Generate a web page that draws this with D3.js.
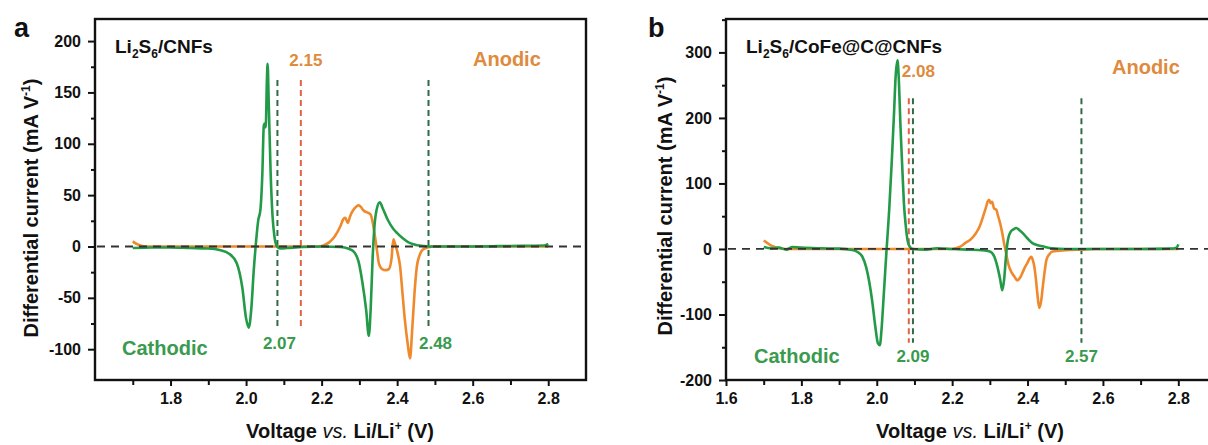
<!DOCTYPE html>
<html>
<head>
<meta charset="utf-8">
<script src="https://cdn.jsdelivr.net/npm/d3@7"></script>
<style>
  body { margin: 0; background: #fff; }
  svg text { font-family: "Liberation Sans", Arial, sans-serif; font-weight: bold; }
</style>
</head>
<body>
<svg id="chart"></svg>
<script>
// ---- data: panel a (Li2S6/CNFs) ----
const aGreenV = [1.70, 1.75, 1.80, 1.85, 1.90, 1.93, 1.955, 1.975, 1.99, 2.000, 2.007, 2.014, 2.020, 2.026, 2.032, 2.038, 2.043, 2.047, 2.050, 2.052, 2.055, 2.057, 2.060, 2.065, 2.070, 2.075, 2.082, 2.090, 2.11, 2.15, 2.20, 2.25, 2.27, 2.285, 2.298, 2.308, 2.318, 2.325, 2.330, 2.335, 2.340, 2.347, 2.354, 2.362, 2.375, 2.39, 2.40, 2.415, 2.43, 2.45, 2.47, 2.50, 2.60, 2.70, 2.79, 2.80];
const aGreenI = [-1.5, -1, -1, -1.5, -2, -3.5, -7, -16, -40, -70, -79, -60, -25, 3, 25, 36, 70, 118, 120, 116, 160, 178, 140, 72, 30, 10, 0, -2, -1.5, -0.5, 0, -0.5, -2, -5, -15, -35, -62, -87, -60, -12, 20, 38, 43, 37, 26, 17, 13, 8, 4, 1.5, 0.5, 0, 0, 0.5, 1, 2.5];
const aOrangeV = [1.700, 1.710, 1.725, 1.75, 1.9, 2.0, 2.1, 2.19, 2.205, 2.22, 2.235, 2.25, 2.258, 2.263, 2.269, 2.276, 2.283, 2.292, 2.298, 2.305, 2.311, 2.322, 2.33, 2.336, 2.342, 2.347, 2.352, 2.36, 2.37, 2.378, 2.385, 2.390, 2.395, 2.401, 2.408, 2.414, 2.420, 2.428, 2.434, 2.440, 2.446, 2.452, 2.46, 2.468, 2.48, 2.50, 2.80];
const aOrangeI = [5, 2.5, 0.5, 0, 0, 0, 0, 0, 1, 4, 10, 20, 27, 28, 23, 30, 35, 39, 40, 38, 35, 33, 31, 22, 8, -5, -17, -22, -23, -22, -12, 7, 2, -6, -20, -45, -70, -95, -109, -80, -45, -20, -8, -3, -1, 0, 0];
const aMarkV = [2.083, 2.145, 2.483];
const aMarkText = ["2.07", "2.15", "2.48"];

// ---- data: panel b (Li2S6/CoFe@C@CNFs) ----
const bGreenV = [1.70, 1.72, 1.74, 1.76, 1.775, 1.80, 1.85, 1.90, 1.935, 1.95, 1.962, 1.972, 1.980, 1.988, 1.996, 2.003, 2.008, 2.013, 2.018, 2.026, 2.033, 2.040, 2.046, 2.050, 2.055, 2.058, 2.063, 2.068, 2.072, 2.077, 2.082, 2.088, 2.095, 2.13, 2.16, 2.20, 2.24, 2.279, 2.30, 2.312, 2.320, 2.327, 2.333, 2.338, 2.343, 2.348, 2.355, 2.363, 2.37, 2.378, 2.386, 2.40, 2.413, 2.425, 2.44, 2.466, 2.50, 2.60, 2.70, 2.78, 2.795, 2.80];
const bGreenI = [3, 1, 2, -1, 3, 2, 1, 0.5, -1.5, -5, -12, -28, -50, -80, -118, -144, -147, -120, -75, -1, 60, 136, 210, 263, 288, 265, 186, 120, 70, 35, 12, 3, 0, -1, 1, 0, -1, -2, -4, -12, -27, -45, -63, -46, -10, 14, 26, 30, 32, 29, 25, 16, 9, 6, 4, 1, 0, 0, 0, 0.5, 2, 7];
const bOrangeV = [1.700, 1.710, 1.720, 1.735, 1.76, 2.0, 2.1, 2.2, 2.22, 2.237, 2.25, 2.263, 2.272, 2.279, 2.285, 2.29, 2.294, 2.298, 2.302, 2.306, 2.311, 2.317, 2.322, 2.325, 2.329, 2.333, 2.338, 2.343, 2.347, 2.351, 2.358, 2.365, 2.373, 2.380, 2.386, 2.393, 2.399, 2.405, 2.41, 2.414, 2.418, 2.422, 2.426, 2.431, 2.436, 2.441, 2.446, 2.45, 2.458, 2.466, 2.5, 2.54, 2.58, 2.80];
const bOrangeI = [13, 9, 5, 2, 0, 0, 0, 0, 3, 10, 15, 24, 33, 44, 55, 64, 72, 75, 70, 72, 62, 60, 50, 44, 35, 24, 8, -6, -18, -27, -36, -42, -48, -44, -37, -28, -22, -15, -12, -17, -27, -45, -68, -90, -80, -55, -32, -17, -8, -4, -2, -1, 0, 0];
const bMarkV = [2.096, 2.085, 2.543];
const bMarkText = ["2.09", "2.08", "2.57"];

// ticks
const aXTicks = [1.7, 1.8, 1.9, 2.0, 2.1, 2.2, 2.3, 2.4, 2.5, 2.6, 2.7, 2.8];
const bXTicks = [1.6, 1.7, 1.8, 1.9, 2.0, 2.1, 2.2, 2.3, 2.4, 2.5, 2.6, 2.7, 2.8, 2.9];
const aYTicks = [-100, -75, -50, -25, 0, 25, 50, 75, 100, 125, 150, 175, 200];
const bYTicks = [-200, -150, -100, -50, 0, 50, 100, 150, 200, 250, 300, 350];

const W = 1208, H = 445;
const GREEN = "#239a48", ORANGE = "#f0892c";
const GREEN_TXT = "#3a9a4e", ORANGE_TXT = "#e08a3c";
const GREEN_DASH = "#2f6b45", RED_DASH = "#dd6546";

const svg = d3.select("#chart").attr("width", W).attr("height", H)
  .style("display", "block");
svg.append("rect").attr("width", W).attr("height", H).attr("fill", "#fff");

function drawPanel(p) {
  const g = svg.append("g");
  const x = d3.scaleLinear().domain(p.xDomain).range([p.left, p.right]);
  const y = d3.scaleLinear().domain(p.yDomain).range([p.bottom, p.top]);

  // minor + major ticks
  const xMajor = p.xTicks.filter(d => p.xLabelled(d));
  const xMinor = p.xTicks.filter(d => !p.xLabelled(d));
  const yMajor = p.yTicks.filter(d => d % p.yMajorStep === 0);
  const yMinor = p.yTicks.filter(d => d % p.yMajorStep !== 0);

  const axX = g.append("g").attr("transform", `translate(0,${p.bottom})`);
  axX.append("g").call(d3.axisBottom(x).tickValues(xMinor).tickSize(5).tickFormat(""));
  axX.append("g").call(d3.axisBottom(x).tickValues(xMajor).tickSize(6).tickPadding(7)
    .tickFormat(d => d.toFixed(1)));
  const axY = g.append("g").attr("transform", `translate(${p.left},0)`);
  axY.append("g").call(d3.axisLeft(y).tickValues(yMinor).tickSize(4).tickFormat(""));
  axY.append("g").call(d3.axisLeft(y).tickValues(yMajor).tickSize(7).tickPadding(7)
    .tickFormat(d => String(d)));   // plain hyphen, like the original
  g.selectAll(".domain").remove();
  g.selectAll(".tick line").attr("stroke", "#111").attr("stroke-width", 2);
  g.selectAll(".tick text").attr("font-size", 16).attr("fill", "#111")
    .style("font-family", "'Liberation Sans', Arial, sans-serif").style("font-weight", "bold");

  // frame
  g.append("rect")
    .attr("x", p.left).attr("y", p.top)
    .attr("width", p.right - p.left).attr("height", p.bottom - p.top)
    .attr("fill", "none").attr("stroke", "#111").attr("stroke-width", 2.4);

  // dashed markers
  p.markV.forEach((v, i) => {
    g.append("line")
      .attr("x1", x(v)).attr("x2", x(v))
      .attr("y1", y(p.markTop)).attr("y2", y(p.markBottom))
      .attr("stroke", p.markColor[i]).attr("stroke-width", 2)
      .attr("stroke-dasharray", "6,4");
  });

  const line = d3.line().x(d => x(d[0])).y(d => y(d[1])).curve(d3.curveMonotoneX);
  g.append("path").datum(d3.zip(p.orangeV, p.orangeI))
    .attr("d", line).attr("fill", "none").attr("stroke", ORANGE)
    .attr("stroke-width", 2.6).attr("stroke-linejoin", "round");
  g.append("path").datum(d3.zip(p.greenV, p.greenI))
    .attr("d", line).attr("fill", "none").attr("stroke", GREEN)
    .attr("stroke-width", 2.6).attr("stroke-linejoin", "round");

  // zero line
  g.append("line")
    .attr("x1", p.left + 2).attr("x2", x(p.xDomain[1]))
    .attr("y1", y(0)).attr("y2", y(0))
    .attr("stroke", "#333").attr("stroke-width", 1.8)
    .attr("stroke-dasharray", "8,6");

  // marker labels
  p.markText.forEach((t, i) => {
    g.append("text")
      .attr("x", x(p.markV[i]) + p.markDx[i]).attr("y", p.markY[i])
      .attr("text-anchor", p.markAnchor[i])
      .attr("font-size", 17).attr("fill", p.markTxtColor[i]).text(t);
  });

  // Anodic / Cathodic
  g.append("text").attr("x", p.anodicX).attr("y", p.anodicY)
    .attr("font-size", 20).attr("fill", ORANGE_TXT).text("Anodic");
  g.append("text").attr("x", p.cathodicX).attr("y", p.cathodicY)
    .attr("font-size", 20).attr("fill", GREEN_TXT).text("Cathodic");

  // sample name
  const nm = g.append("text").attr("x", p.left + 20).attr("y", 53)
    .attr("font-size", 19).attr("fill", "#111");
  nm.append("tspan").text("Li");
  nm.append("tspan").attr("dy", 5).attr("font-size", 12).text("2");
  nm.append("tspan").attr("dy", -5).text("S");
  nm.append("tspan").attr("dy", 5).attr("font-size", 12).text("6");
  nm.append("tspan").attr("dy", -5).text(p.name);

  // panel letter
  g.append("text").attr("x", p.letterX).attr("y", 37)
    .attr("font-size", 27).attr("fill", "#111").text(p.letter);

  // y label
  const yl = g.append("text")
    .attr("transform", `translate(${p.yLabelX},${p.yLabelY}) rotate(-90)`)
    .attr("text-anchor", "middle").attr("font-size", 20).attr("fill", "#111");
  yl.append("tspan").text("Differential current (mA V");
  yl.append("tspan").attr("dy", -8).attr("font-size", 12).text("-1");
  yl.append("tspan").attr("dy", 8).text(")");

  // x label
  const xl = g.append("text").attr("x", p.xLabelX).attr("y", 438)
    .attr("text-anchor", "middle").attr("font-size", 20).attr("fill", "#111");
  xl.append("tspan").text("Voltage ");
  xl.append("tspan").style("font-style", "italic").style("font-weight", "normal").text("vs.");
  xl.append("tspan").text(" Li/Li");
  xl.append("tspan").attr("dy", -8).attr("font-size", 12).text("+");
  xl.append("tspan").attr("dy", 8).text(" (V)");
}

drawPanel({
  letter: "a", letterX: 14, name: "/CNFs",
  left: 95, right: 586, top: 19, bottom: 380,
  xDomain: [1.6, 2.9], yDomain: [-130, 221.5],
  xTicks: aXTicks, xLabelled: d => Math.round(d * 10) % 2 === 0,
  yTicks: aYTicks, yMajorStep: 50,
  greenV: aGreenV, greenI: aGreenI, orangeV: aOrangeV, orangeI: aOrangeI,
  markV: aMarkV, markText: aMarkText, markTop: 162, markBottom: -79,
  markColor: [GREEN_DASH, RED_DASH, GREEN_DASH],
  markTxtColor: [GREEN_TXT, ORANGE_TXT, GREEN_TXT],
  markDx: [2, 5, 7], markY: [349, 66, 349], markAnchor: ["middle", "middle", "middle"],
  anodicX: 473, anodicY: 66, cathodicX: 122, cathodicY: 355,
  yLabelX: 38, yLabelY: 208, xLabelX: 340
});

drawPanel({
  letter: "b", letterX: 648, name: "/CoFe@C@CNFs",
  left: 726, right: 1216, top: 19, bottom: 380,
  xDomain: [1.6, 2.9], yDomain: [-200, 351],
  xTicks: bXTicks, xLabelled: d => Math.round(d * 10) % 2 === 0,
  yTicks: bYTicks, yMajorStep: 100,
  greenV: bGreenV, greenI: bGreenI, orangeV: bOrangeV, orangeI: bOrangeI,
  markV: bMarkV, markText: bMarkText, markTop: 230, markBottom: -143,
  markColor: [GREEN_DASH, RED_DASH, GREEN_DASH],
  markTxtColor: [GREEN_TXT, ORANGE_TXT, GREEN_TXT],
  markDx: [0, -7, 0], markY: [362, 77, 362], markAnchor: ["middle", "start", "middle"],
  anodicX: 1112, anodicY: 74, cathodicX: 754, cathodicY: 363,
  yLabelX: 672, yLabelY: 206, xLabelX: 970
});
</script>
</body>
</html>
